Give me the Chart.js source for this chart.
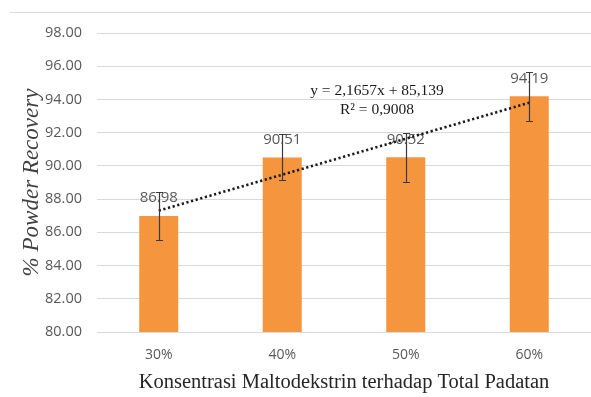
<!DOCTYPE html>
<html>
<head>
<meta charset="utf-8">
<script src="https://cdn.jsdelivr.net/npm/chart.js@4/dist/chart.umd.min.js"></script>
<style>
  html, body { margin: 0; padding: 0; background: #ffffff; }
  #wrap { width: 591px; height: 397px; position: relative; }
</style>
</head>
<body>
<div id="wrap"><canvas id="c" width="591" height="397"></canvas></div>
<script>
// Maltodextrin concentration (relative to total solids)
const categories = ['30%', '40%', '50%', '60%'];
// Mean powder recovery (%)
const recovery = [86.98, 90.51, 90.52, 94.19];
// Error bar half-widths (±)
const recoveryError = [1.47, 1.38, 1.48, 1.48];
// Linear trend stated on the chart: y = 2,1657x + 85,139 (x = 1..4)
const trendSlope = 2.1657;
const trendIntercept = 85.139;
const trendR2 = 0.9008;
// Y axis ticks
const yTicks = [80, 82, 84, 86, 88, 90, 92, 94, 96, 98];

const trendValues = categories.map((_, i) => trendIntercept + trendSlope * (i + 1));

const fmtComma = v => String(v).replace('.', ',');

const extras = {
  id: 'extras',
  beforeDatasetsDraw(chart) {
    const ctx = chart.ctx;
    // frame line above the plot
    ctx.save();
    ctx.strokeStyle = '#d9d9d9';
    ctx.lineWidth = 1;
    ctx.beginPath();
    ctx.moveTo(10, 12.5);
    ctx.lineTo(591, 12.5);
    ctx.stroke();
    // value labels above the bars
    const meta = chart.getDatasetMeta(0);
    ctx.fillStyle = '#595959';
    ctx.font = '15px "Open Sans", sans-serif';
    ctx.textAlign = 'center';
    ctx.textBaseline = 'middle';
    meta.data.forEach((bar, i) => {
      ctx.fillText(recovery[i].toFixed(2), bar.x, bar.y - 18);
    });
    ctx.restore();
  },
  afterDatasetsDraw(chart) {
    const ctx = chart.ctx;
    const y = chart.scales.y;
    const meta = chart.getDatasetMeta(0);
    ctx.save();
    ctx.strokeStyle = '#3a3a3a';
    ctx.lineWidth = 1.2;
    meta.data.forEach((bar, i) => {
      const top = Math.round(y.getPixelForValue(recovery[i] + recoveryError[i])) + 0.5;
      const bot = Math.round(y.getPixelForValue(recovery[i] - recoveryError[i])) + 0.5;
      const x = Math.round(bar.x) + 0.5;
      ctx.beginPath();
      ctx.moveTo(x, top); ctx.lineTo(x, bot);
      ctx.moveTo(x - 3.5, top); ctx.lineTo(x + 3.5, top);
      ctx.moveTo(x - 3.5, bot); ctx.lineTo(x + 3.5, bot);
      ctx.stroke();
    });
    // trend equation
    ctx.fillStyle = '#1a1a1a';
    ctx.font = '15.5px "Liberation Serif", "Times New Roman", serif';
    ctx.textAlign = 'center';
    ctx.textBaseline = 'middle';
    ctx.fillText('y = ' + fmtComma(trendSlope) + 'x + ' + fmtComma(trendIntercept), 377, 91);
    ctx.fillText('R² = ' + fmtComma(trendR2), 377, 110);
    ctx.restore();
  }
};

new Chart(document.getElementById('c'), {
  type: 'bar',
  data: {
    labels: categories,
    datasets: [
      {
        type: 'bar',
        label: '% Powder Recovery',
        data: recovery,
        backgroundColor: '#F5963F',
        categoryPercentage: 1,
        barPercentage: 0.316,
        order: 2
      },
      {
        type: 'line',
        label: 'Linear',
        data: trendValues,
        borderColor: '#1a1a1a',
        borderWidth: 2.6,
        borderDash: [2.2, 2.6],
        pointRadius: 0,
        fill: false,
        tension: 0,
        order: 1
      }
    ]
  },
  options: {
    responsive: false,
    animation: false,
    devicePixelRatio: 1,
    layout: { padding: { top: 33, right: 0, bottom: 0, left: 0 } },
    plugins: { legend: { display: false }, tooltip: { enabled: false } },
    scales: {
      x: {
        grid: { display: false, drawTicks: false },
        border: { display: true, color: '#d9d9d9', width: 1 },
        ticks: {
          color: '#595959',
          padding: 15,
          font: { family: '"Open Sans", sans-serif', size: 14 }
        },
        title: {
          display: true,
          text: 'Konsentrasi Maltodekstrin terhadap Total Padatan',
          color: '#262626',
          font: { family: '"Liberation Serif", "Times New Roman", serif', size: 20.5, lineHeight: 1.2 },
          padding: { top: 0, bottom: 2 }
        },
        afterFit(scale) { scale.height = 65; }
      },
      y: {
        min: 80,
        max: 98,
        grid: { color: '#d9d9d9', lineWidth: 1, drawTicks: false },
        border: { display: false },
        afterBuildTicks(scale) { scale.ticks = yTicks.map(v => ({ value: v })); },
        ticks: {
          color: '#595959',
          padding: 15,
          font: { family: '"Open Sans", sans-serif', size: 14.5 },
          callback: v => Number(v).toFixed(2)
        },
        title: {
          display: true,
          text: '% Powder Recovery',
          color: '#404040',
          font: { family: '"Liberation Serif", "Times New Roman", serif', size: 23, style: 'italic', lineHeight: 1.2 },
          padding: { top: 18, bottom: 0 }
        },
        afterFit(scale) { scale.width = 97; }
      }
    }
  },
  plugins: [extras]
});
</script>
</body>
</html>
